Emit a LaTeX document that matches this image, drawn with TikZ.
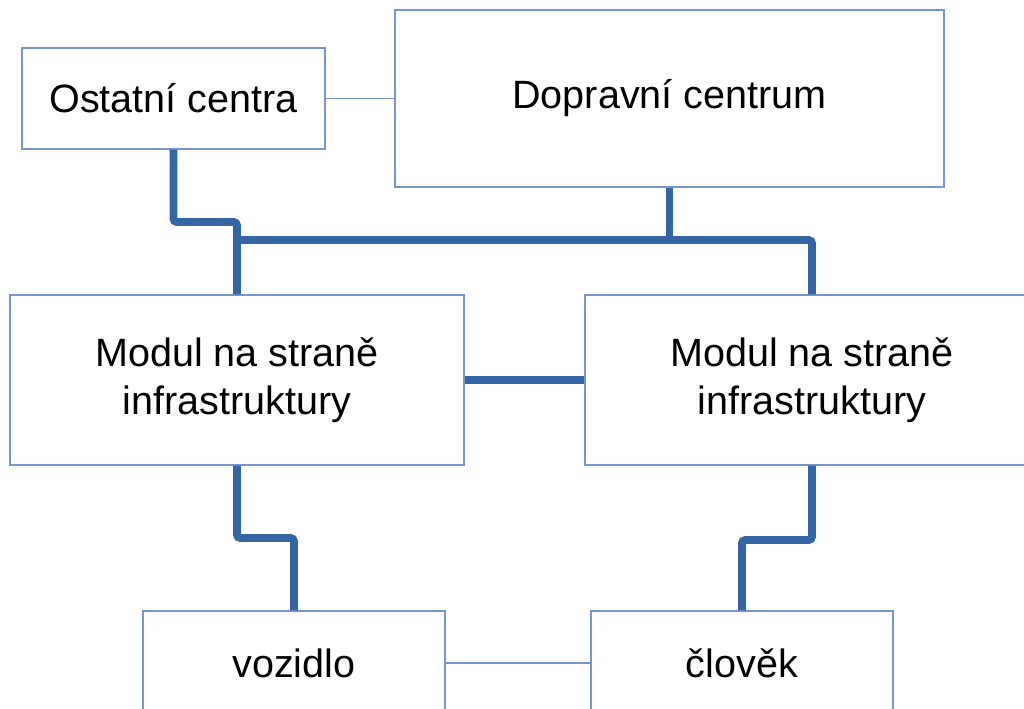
\documentclass[tikz,border=0pt]{standalone}
\usepackage{fontspec}
\setmainfont{Liberation Sans}
\usetikzlibrary{positioning}

\definecolor{busblue}{RGB}{52,101,164}
\definecolor{framblue}{RGB}{120,150,205}

\tikzset{
	box/.style={draw=framblue, line width=0.7pt, fill=white, align=center, inner sep=0pt,
		font=\fontsize{22.5}{27.5}\selectfont},
	bus/.style={draw=busblue, line width=4.5pt, rounded corners=2pt},
	link/.style={draw=framblue, line width=0.7pt}
}

\begin{document}
\begin{tikzpicture}[x=0.02cm, y=-0.02cm]
	
	\clip (0,0) rectangle (1024,709);
	\fill[white] (0,0) rectangle (1024,709);
	
	\node[box, minimum width=303*0.02cm, minimum height=101*0.02cm] (ost) at (173.5,98.5) {Ostatní centra};
	\node[box, minimum width=549*0.02cm, minimum height=177*0.02cm] (dop) at (669.5,98.5) {Dopravní centrum};
	\node[box, minimum width=454*0.02cm, minimum height=170*0.02cm] (modL) at (237,380) {Modul na straně\\infrastruktury};
	\node[box, minimum width=454*0.02cm, minimum height=170*0.02cm] (modR) at (812,380) {Modul na straně\\infrastruktury};
	\node[box, minimum width=302*0.02cm, minimum height=104*0.02cm] (voz) at (294,663) {vozidlo};
	\node[box, minimum width=302*0.02cm, minimum height=104*0.02cm] (clo) at (742,663) {člověk};
	
	\draw[link] (ost.east) -- (dop.west);
	\draw[link] (voz.east) -- (clo.west);
	
	\draw[bus] (ost.south) -- (ost.south |- 0,222) -| (modL.north);
	\draw[bus] (modL.north |- 0,240) -| (modR.north);
	\draw[bus] (dop.south) -- (dop.south |- 0,240);
	\draw[bus] (modL.east) -- (modR.west);
	\draw[bus] (modL.south) -- (modL.south |- 0,538) -| (voz.north);
	\draw[bus] (modR.south) -- (modR.south |- 0,540) -| (clo.north);
	
\end{tikzpicture}
\end{document}
